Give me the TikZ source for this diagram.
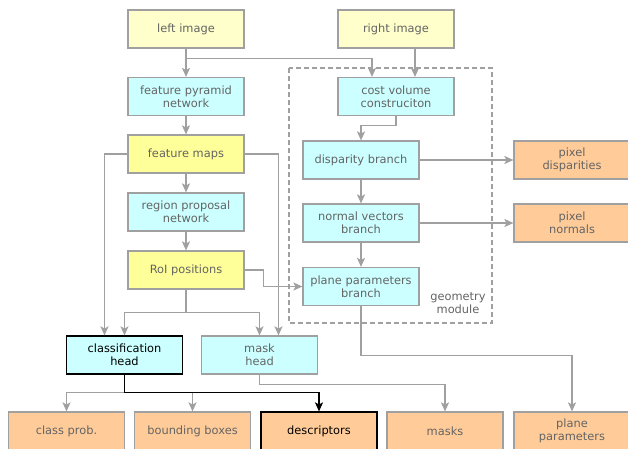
\documentclass[tikz,border=0pt]{standalone}
\usepackage{fontspec}
\setmainfont{DejaVu Sans}
\usepackage{tikz}
\usetikzlibrary{arrows.meta,calc}
\definecolor{inputYellow} {RGB}{255,255,204}
\definecolor{mapYellow}   {RGB}{255,255,153}
\definecolor{netCyan}     {RGB}{204,255,255}
\definecolor{outOrange}   {RGB}{255,204,153}
\definecolor{edgeGray}    {RGB}{160,160,160}
\definecolor{textGray}    {RGB}{100,100,100}

\begin{document}
\begin{tikzpicture}[x=1pt,y=-1pt,
    box/.style={draw=edgeGray, line width=1.2pt, minimum width=116pt,
      minimum height=38pt, inner sep=0pt, align=center, text=textGray,
      font=\fontsize{11.4}{13}\selectfont},
    inbox/.style={box, fill=inputYellow},
    mapbox/.style={box, fill=mapYellow},
    netbox/.style={box, fill=netCyan},
    outbox/.style={box, fill=outOrange},
    keybox/.style={draw=black, text=black},
    arr/.style={-{Stealth[length=9pt,width=8pt,inset=2pt]}, draw=edgeGray, line width=1.2pt},
    keyarr/.style={arr, draw=black}]
  \useasboundingbox (0,0) rectangle (628,448);
  % geometry module frame
  \draw[edgeGray, line width=1.2pt, dash pattern=on 5pt off 3pt]
    (289,68) rectangle (492,323);
  \node[text=textGray, font=\fontsize{11.4}{13}\selectfont, align=center]
    (geolabel) at (458,303) {geometry\\module};
  % inputs
  \node[inbox] (limg) at (186,29) {left image};
  \node[inbox] (rimg) at (396,29) {right image};
  % detection path
  \node[netbox] (fpn)   at (186,96.5) {feature pyramid\\network};
  \node[mapbox] (fmaps) at (186,154)  {feature maps};
  \node[netbox] (rpn)   at (186,212)  {region proposal\\network};
  \node[mapbox] (roi)   at (186,270)  {RoI positions};
  \node[netbox, keybox] (chead) at (124.5,355) {classification\\head};
  \node[netbox] (mhead) at (259.5,355) {mask\\head};
  % geometry path
  \node[netbox] (cost)    at (396,96.5) {cost volume\\construciton};
  \node[netbox] (disp)    at (361,160)  {disparity branch};
  \node[netbox] (normal)  at (361,223)  {normal vectors\\branch};
  \node[netbox] (pbranch) at (361,286.5) {plane parameters\\branch};
  \node[outbox] (pdisp) at (572,160) {pixel\\disparities};
  \node[outbox] (pnorm) at (572,223) {pixel\\normals};
  % outputs
  \node[outbox] (cprob)  at (66.5,431)  {class prob.};
  \node[outbox] (bbox)   at (192.5,431) {bounding boxes};
  \node[outbox, keybox] (desc) at (319,431) {descriptors};
  \node[outbox] (masks)  at (445,431)  {masks};
  \node[outbox] (pparam) at (572,431) {plane\\parameters};

  % connectors
  \draw[arr] (limg) -- (fpn);
  \draw[arr] ($(limg.south)+(0,10)$) -| ($(cost.north)+(-24,0)$);
  \draw[arr] ($(rimg.south)+(19,0)$) -- ($(cost.north)+(19,0)$);
  \draw[arr] (cost.south) -- ++(0,9) -| (disp.north);
  \draw[arr] (disp) -- (pdisp);
  \draw[arr] (disp) -- (normal);
  \draw[arr] (normal) -- (pnorm);
  \draw[arr] (normal) -- (pbranch);
  \draw[arr] (pbranch.south) -- ++(0,49) -| (pparam.north);
  \draw[arr] (fpn) -- (fmaps);
  \draw[arr] (fmaps) -- (rpn);
  \draw[arr] (rpn) -- (roi);
  \draw[arr] (fmaps.west) -| ($(chead.north)+(-20,0)$);
  \draw[arr] (fmaps.east) -| ($(mhead.north)+(19,0)$);
  \draw[arr] (roi.east) -- ++(19,0) |- (pbranch.west);
  \draw[edgeGray, line width=1.2pt] (roi.south) -- ++(0,23) coordinate (roisplit);
  \draw[arr] (roisplit) -| (chead.north);
  \draw[arr] (roisplit) -| (mhead.north);
  \draw[arr] (mhead.south) -- ++(0,10) -| (masks.north);
  \coordinate (csplit) at ($(chead.south)+(0,18)$);
  \draw[arr] (csplit) -| (cprob.north);
  \draw[arr] (csplit) -| (bbox.north);
  \draw[keyarr] (chead.south) -- (csplit) -| (desc.north);
\end{tikzpicture}
\end{document}
